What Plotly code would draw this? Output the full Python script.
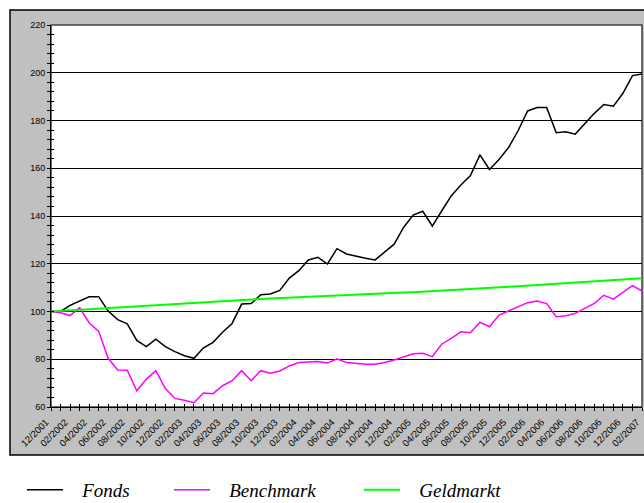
import plotly.graph_objects as go

months = []
for y in range(2001, 2008):
    for m in range(1, 13):
        if (y, m) >= (2001, 12) and (y, m) <= (2007, 2):
            months.append(f"{m:02d}/{y}")

fonds = [100.0, 100.0, 102.6, 104.5, 106.2, 106.2, 100.2, 96.6, 94.8, 87.9,
         85.3, 88.4, 85.3, 83.2, 81.5, 80.4, 84.8, 87.1, 91.3, 95.0,
         103.1, 103.3, 107.0, 107.3, 108.8, 114.0, 117.1, 121.6, 122.7, 119.9,
         126.3, 124.1, 123.1, 122.3, 121.6, 125.1, 128.2, 135.3, 140.4, 142.0,
         135.8, 142.2, 148.5, 153.0, 156.9, 165.6, 159.5, 163.7, 168.7, 175.7,
         184.0, 185.4, 185.4, 174.9, 175.3, 174.3, 178.5, 183.0, 186.7, 186.0,
         191.4, 198.8, 199.5]

benchmark = [100.0, 99.5, 98.3, 101.6, 95.3, 91.7, 80.4, 75.5, 75.4, 66.8,
             71.7, 75.2, 67.7, 63.6, 62.8, 61.8, 65.9, 65.6, 68.9, 71.0,
             75.2, 71.0, 75.2, 74.1, 75.1, 77.2, 78.6, 78.8, 79.1, 78.4,
             80.2, 78.6, 78.1, 77.9, 77.9, 78.6, 79.7, 81.1, 82.3, 82.5,
             81.1, 86.4, 88.7, 91.5, 91.1, 95.5, 93.6, 98.5, 100.3, 102.0,
             103.7, 104.4, 103.3, 97.8, 98.2, 99.2, 101.3, 103.4, 106.8, 105.2,
             108.0, 110.8, 108.6]

geldmarkt = [100.0, 100.25, 100.5, 100.75, 101.0, 101.25, 101.5, 101.75, 102.0, 102.25,
             102.5, 102.75, 103.0, 103.25, 103.5, 103.75, 104.0, 104.25, 104.5, 104.7,
             104.9, 105.05, 105.25, 105.4, 105.6, 105.8, 105.95, 106.15, 106.3, 106.5,
             106.7, 106.85, 107.05, 107.2, 107.4, 107.6, 107.75, 107.95, 108.1, 108.3,
             108.5, 108.65, 108.85, 109.1, 109.35, 109.6, 109.85, 110.1, 110.35, 110.6,
             110.85, 111.1, 111.35, 111.6, 111.85, 112.1, 112.35, 112.6, 112.85, 113.1,
             113.35, 113.6, 113.9]

tick_labels = months[::2]
x = list(range(len(months)))

W, H = 644, 503
L, R, T, B = 51, 2, 25, 96
pw, ph = W - L - R, H - T - B

def px_x(p):
    return (p - L) / pw

def px_y(p):
    return (H - B - p) / ph

legfont = dict(family="Liberation Serif", size=19, color="black")
PAD = "\u00a0" * 3

def leg(px):
    return dict(orientation="h", x=px / W, y=1 - 490 / H, xref="container", yref="container",
                xanchor="left", yanchor="middle", font=legfont, bgcolor="rgba(0,0,0,0)",
                borderwidth=0, itemwidth=36)

fig = go.Figure()
fig.add_trace(go.Scatter(x=x, y=fonds, mode="lines", name=PAD + "<i>Fonds</i>",
                         line=dict(color="black", width=1.5), legend="legend"))
fig.add_trace(go.Scatter(x=x, y=benchmark, mode="lines", name=PAD + "<i>Benchmark</i>",
                         line=dict(color="#FF00FF", width=1.5), legend="legend2"))
fig.add_trace(go.Scatter(x=x, y=geldmarkt, mode="lines", name=PAD + "<i>Geldmarkt</i>",
                         line=dict(color="#00FF00", width=2), legend="legend3"))
fig.add_trace(go.Scatter(x=[], y=[], xaxis="x2", yaxis="y2", showlegend=False))

fig.update_layout(
    width=W, height=H,
    showlegend=True,
    margin=dict(l=L, r=R, t=T, b=B, autoexpand=False),
    paper_bgcolor="white",
    plot_bgcolor="rgba(0,0,0,0)",
    font=dict(family="Liberation Sans", size=9, color="black"),
    xaxis=dict(range=[0, len(months) - 1], tickmode="array", tickvals=x[::2],
               ticktext=tick_labels, tickangle=-45, ticks="outside", ticklen=3,
               tickcolor="black", showgrid=False, zeroline=False, automargin=False,
               showline=True, linecolor="black", linewidth=1,
               ticklabeloverflow="allow", ticklabelshift=-5, ticklabelstandoff=2,
               tickfont=dict(size=9.5, family="Liberation Sans"),
               minor=dict(tickmode="array", tickvals=x, ticks="outside", ticklen=3,
                          tickcolor="black", showgrid=False)),
    yaxis=dict(range=[60, 220], tickmode="linear", tick0=60, dtick=20,
               ticks="outside", ticklen=3, tickcolor="black", automargin=False,
               showgrid=True, gridcolor="black", gridwidth=1, zeroline=False,
               showline=True, linecolor="black", linewidth=1,
               tickfont=dict(size=9, family="Liberation Sans"),
               minor=dict(dtick=4, tick0=60, ticks="outside", ticklen=3,
                          tickcolor="black", showgrid=False)),
    xaxis2=dict(overlaying="x", anchor="y2", range=[0, len(months) - 1], side="bottom",
                tickmode="array", tickvals=x, ticks="inside", ticklen=3, automargin=False,
                tickcolor="black", showticklabels=False, showgrid=False, zeroline=False),
    yaxis2=dict(overlaying="y", anchor="x2", range=[60, 220], side="left", automargin=False,
                tickmode="linear", tick0=60, dtick=4, ticks="inside", ticklen=3,
                tickcolor="black", showticklabels=False, showgrid=False, zeroline=False),
    legend=leg(22),
    legend2=leg(169),
    legend3=leg(359),
    shapes=[
        dict(type="rect", xref="paper", yref="paper",
             x0=px_x(10), x1=px_x(660), y0=px_y(455), y1=px_y(10),
             fillcolor="#C0C0C0", line=dict(color="black", width=1.5), layer="below"),
        dict(type="rect", xref="paper", yref="paper",
             x0=0, x1=1, y0=0, y1=1,
             fillcolor="white", line=dict(color="#404040", width=1.5), layer="below"),
    ],
)

fig.write_html("out.html", config={"displayModeBar": False},
               post_script="document.body.style.margin='0';document.body.style.padding='0';")
